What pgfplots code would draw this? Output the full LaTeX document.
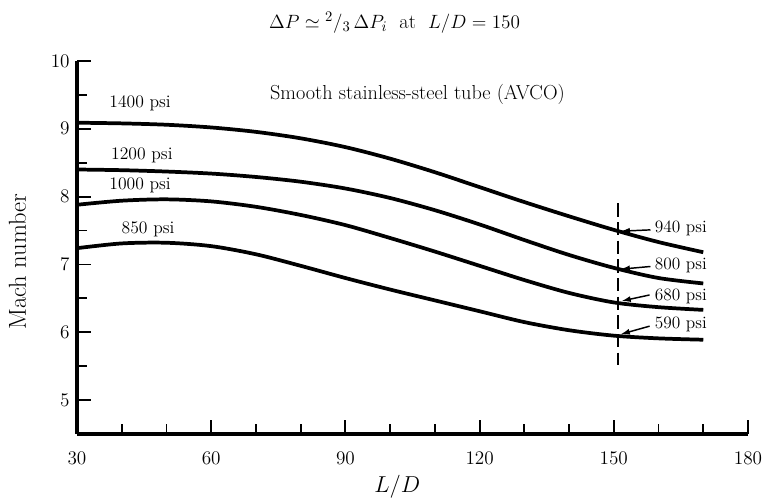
\documentclass[border=0pt]{standalone}
\usepackage{pgfplots}
\pgfplotsset{compat=1.18}
\usetikzlibrary{arrows.meta}
\begin{document}
\begin{tikzpicture}
\useasboundingbox (-57.75pt,-48.75pt) rectangle (516pt,325.5pt);
\begin{axis}[
  at={(0pt,0pt)}, anchor=south west,
  scale only axis, width=503.25pt, height=279.75pt,
  xmin=30, xmax=180, ymin=4.5, ymax=10,
  axis x line=bottom, axis y line=left,
  axis line style={-, line width=2.4pt, black},
  xtick={30,60,...,180},
  minor xtick={40,50,70,80,100,110,130,140,160,170},
  ytick={5,6,...,10},
  minor ytick={5.5,6.5,7.5,8.5,9.5},
  tick align=inside,
  major tick length=10.5pt, minor tick length=7.5pt,
  tick style={black, line width=1.4pt},
  tick label style={font=\fontsize{15}{17}\selectfont},
  xticklabel style={yshift=-10pt},
  yticklabel style={xshift=-2pt},
  clip=false,
]
% 1400 psi
\addplot[black, line width=2.8pt, smooth] coordinates {
(30,9.09) (40,9.08) (50,9.06) (60,9.02) (70,8.955) (80,8.86) (90,8.73)
(100,8.56) (110,8.36) (120,8.14) (130,7.92) (140,7.71) (150,7.51) (160,7.33) (170,7.18)};
% 1200 psi
\addplot[black, line width=2.8pt, smooth] coordinates {
(30,8.40) (40,8.39) (50,8.37) (60,8.34) (70,8.29) (80,8.22) (90,8.12)
(100,7.98) (110,7.80) (120,7.59) (130,7.36) (140,7.14) (150,6.95) (160,6.80) (170,6.72)};
% 1000 psi
\addplot[black, line width=2.8pt, smooth] coordinates {
(30,7.88) (40,7.94) (50,7.96) (60,7.93) (70,7.85) (80,7.73) (90,7.58)
(100,7.39) (110,7.19) (120,6.98) (130,6.77) (140,6.58) (150,6.44) (160,6.37) (170,6.33)};
% 850 psi
\addplot[black, line width=2.8pt, smooth] coordinates {
(30,7.24) (40,7.31) (50,7.32) (60,7.27) (70,7.15) (80,6.98) (90,6.80)
(100,6.63) (110,6.47) (120,6.31) (130,6.15) (140,6.03) (150,5.95) (160,5.91) (170,5.89)};

\node[font=\fontsize{13.2}{15}\selectfont] at (axis cs:44.1,9.38) {1400 psi};
\node[font=\fontsize{13.2}{15}\selectfont] at (axis cs:44.5,8.61) {1200 psi};
\node[font=\fontsize{13.2}{15}\selectfont] at (axis cs:44.1,8.16) {1000 psi};
\node[font=\fontsize{13.2}{15}\selectfont] at (axis cs:45.9,7.52) {850 psi};

\node[font=\fontsize{15.2}{17}\selectfont] at (axis cs:106.1,9.51) {Smooth stainless-steel tube (AVCO)};

\draw[line width=1.2pt, dash pattern=on 10pt off 4pt] (axis cs:151,7.9) -- (axis cs:151,5.52);

\node[anchor=west, font=\fontsize{13}{15}\selectfont, inner sep=1pt] at (axis cs:158.8,7.53) {940 psi};
\node[anchor=west, font=\fontsize{13}{15}\selectfont, inner sep=1pt] at (axis cs:158.8,6.99) {800 psi};
\node[anchor=west, font=\fontsize{13}{15}\selectfont, inner sep=1pt] at (axis cs:158.8,6.53) {680 psi};
\node[anchor=west, font=\fontsize{13}{15}\selectfont, inner sep=1pt] at (axis cs:158.8,6.12) {590 psi};

\draw[line width=1.1pt, -{Latex[length=7pt,width=4.5pt]}] (axis cs:158.2,7.51) -- (axis cs:151.5,7.49);
\draw[line width=1.1pt, -{Latex[length=7pt,width=4.5pt]}] (axis cs:158.2,6.97) -- (axis cs:151.5,6.93);
\draw[line width=1.1pt, -{Latex[length=7pt,width=4.5pt]}] (axis cs:158.0,6.55) -- (axis cs:151.7,6.46);
\draw[line width=1.1pt, -{Latex[length=7pt,width=4.5pt]}] (axis cs:158.0,6.09) -- (axis cs:151.5,5.97);

\node[font=\fontsize{15.2}{17}\selectfont] at (axis cs:101,10.57)
  {$\Delta P \simeq {}^{2}/_{3}\,\Delta P_i$\ \ at\ \ $L/D = 150$};
\node[font=\fontsize{18}{20}\selectfont] at (axis cs:101.6,3.72) {$L/D$};
\node[rotate=90, font=\fontsize{18.4}{20}\selectfont] at (axis cs:16.7,7.04) {Mach number};
\end{axis}
\end{tikzpicture}
\end{document}
